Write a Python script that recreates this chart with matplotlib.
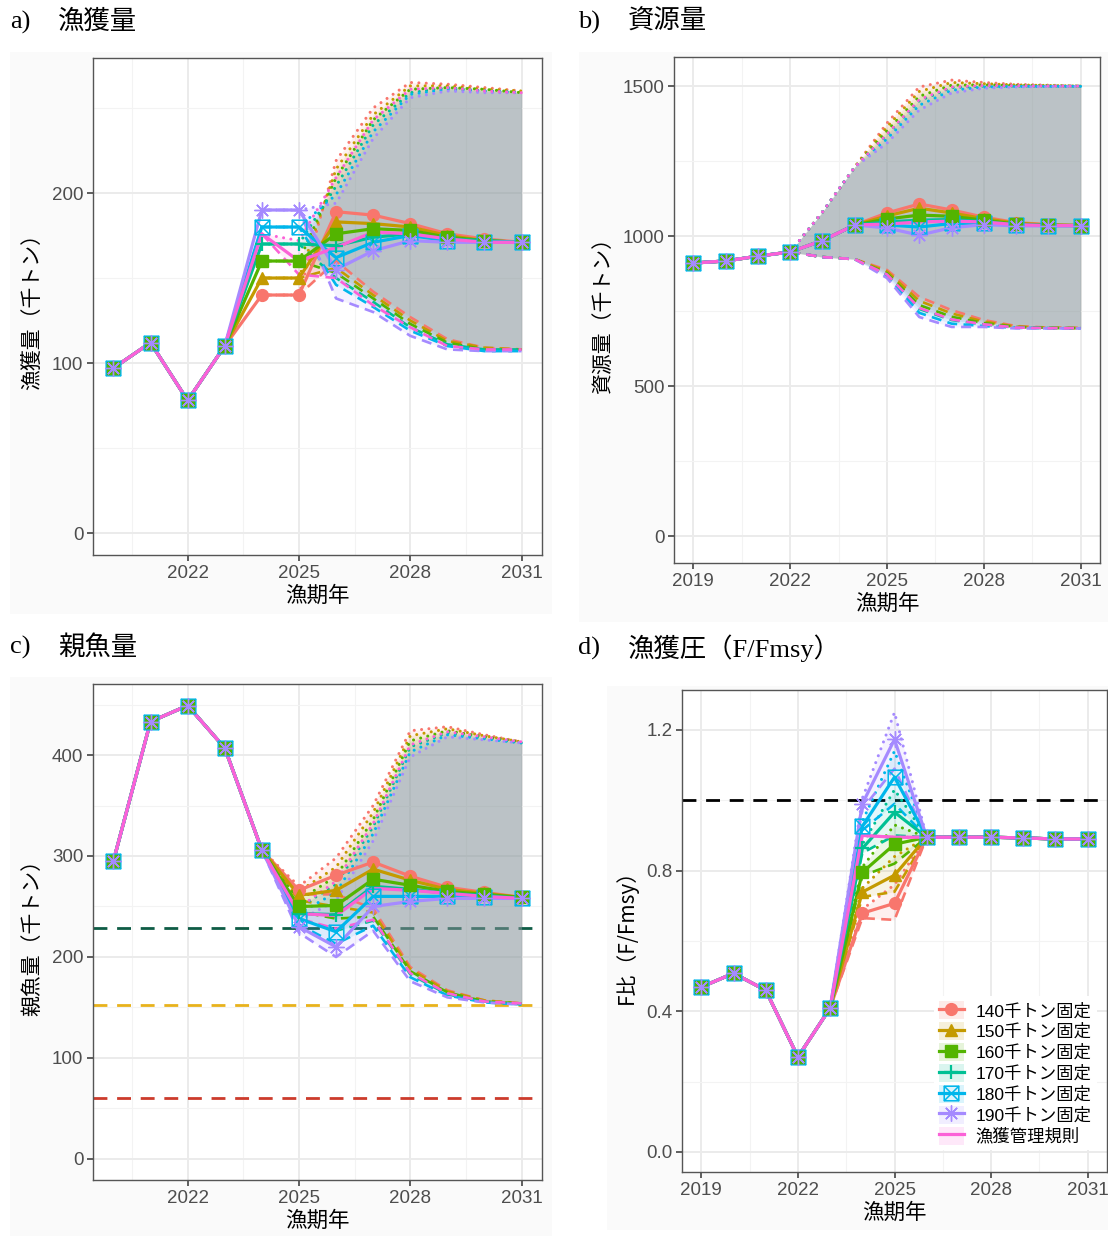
import matplotlib
matplotlib.use("Agg")
import matplotlib.pyplot as plt
from matplotlib.patches import Rectangle, Patch
from matplotlib.lines import Line2D
from matplotlib.path import Path
from matplotlib.legend_handler import HandlerTuple
from matplotlib.font_manager import FontProperties

# ---------------- data ----------------
SCEN = ["140千トン固定", "150千トン固定", "160千トン固定", "170千トン固定",
        "180千トン固定", "190千トン固定", "漁獲管理規則"]
COLORS = ["#F8766D", "#C49A00", "#53B400", "#00C094", "#00B6EB", "#A58AFF", "#FB61D7"]

# a) catch (kt)
catch_hist_years = [2020, 2021, 2022, 2023]
catch_hist = [97, 112, 78, 110]
catch_fut_years = [2024, 2025, 2026, 2027, 2028, 2029, 2030, 2031]
catch_140 = [140, 140, 189, 187, 182, 176, 173, 171]
catch_150 = [150, 150, 183, 182, 180, 175, 172, 171]
catch_160 = [160, 160, 176, 179, 178, 174, 172, 171]
catch_170 = [170, 170, 169, 174, 176, 173, 172, 171]
catch_180 = [180, 180, 162, 171, 175, 172, 171, 171]
catch_190 = [190, 190, 155, 166, 172, 171, 171, 171]
catch_hcr = [176, 160, 168, 177, 176, 173, 171, 171]
catch_up_140 = [140, 140, 219, 250, 265, 264, 262, 260]
catch_up_150 = [150, 150, 214, 246, 263, 263, 261, 260]
catch_up_160 = [160, 160, 209, 243, 261, 262, 261, 259]
catch_up_170 = [170, 170, 204, 240, 259, 262, 260, 259]
catch_up_180 = [180, 180, 199, 236, 258, 261, 260, 259]
catch_up_190 = [190, 190, 194, 232, 256, 260, 259, 259]
catch_up_hcr = [176, 172, 209, 243, 261, 262, 260, 259]
catch_lo_140 = [140, 140, 160, 142, 127, 114, 109, 108]
catch_lo_150 = [150, 150, 156, 140, 125, 113, 109, 108]
catch_lo_160 = [160, 160, 153, 138, 123, 112, 108, 108]
catch_lo_170 = [170, 170, 150, 136, 121, 111, 108, 108]
catch_lo_180 = [180, 180, 146, 133, 119, 110, 107, 107]
catch_lo_190 = [190, 190, 138, 130, 116, 108, 107, 107]
catch_lo_hcr = [176, 152, 150, 134, 121, 110, 108, 108]

# b) stock biomass (kt)
bio_hist_years = [2019, 2020, 2021, 2022]
bio_hist = [910, 917, 933, 947]
bio_fut_years = [2023, 2024, 2025, 2026, 2027, 2028, 2029, 2030, 2031]
bio_140 = [985, 1037, 1077, 1107, 1087, 1063, 1045, 1038, 1035]
bio_150 = [985, 1037, 1067, 1093, 1077, 1058, 1043, 1037, 1035]
bio_160 = [985, 1037, 1057, 1070, 1066, 1053, 1040, 1036, 1035]
bio_170 = [985, 1037, 1047, 1053, 1055, 1048, 1038, 1035, 1035]
bio_180 = [985, 1037, 1037, 1030, 1042, 1043, 1036, 1035, 1035]
bio_190 = [985, 1037, 1027, 1003, 1028, 1038, 1034, 1034, 1034]
bio_hcr = [985, 1037, 1040, 1047, 1050, 1047, 1038, 1035, 1035]
bio_band_years = [2022, 2023, 2024, 2025, 2026, 2027, 2028, 2029, 2030, 2031]
bio_up_140 = [947, 1080, 1230, 1377, 1497, 1520, 1512, 1506, 1503, 1500]
bio_up_150 = [947, 1080, 1230, 1364, 1482, 1512, 1508, 1504, 1502, 1500]
bio_up_160 = [947, 1080, 1230, 1351, 1466, 1503, 1504, 1502, 1501, 1500]
bio_up_170 = [947, 1080, 1230, 1338, 1451, 1495, 1500, 1500, 1500, 1500]
bio_up_180 = [947, 1080, 1230, 1324, 1436, 1486, 1497, 1499, 1499, 1499]
bio_up_190 = [947, 1080, 1230, 1310, 1420, 1477, 1493, 1497, 1499, 1499]
bio_up_hcr = [947, 1080, 1230, 1340, 1455, 1497, 1502, 1501, 1500, 1500]
bio_lo_140 = [947, 930, 923, 887, 797, 753, 720, 700, 695, 694]
bio_lo_150 = [947, 930, 923, 882, 784, 742, 715, 698, 694, 693]
bio_lo_160 = [947, 930, 923, 876, 770, 731, 710, 697, 694, 693]
bio_lo_170 = [947, 930, 923, 871, 757, 720, 705, 695, 693, 693]
bio_lo_180 = [947, 930, 923, 866, 744, 708, 700, 694, 693, 692]
bio_lo_190 = [947, 930, 923, 860, 730, 697, 697, 692, 692, 692]
bio_lo_hcr = [947, 930, 923, 872, 760, 722, 706, 695, 693, 693]

# c) spawning stock biomass (kt)
ssb_hist_years = [2020, 2021, 2022, 2023, 2024]
ssb_hist = [295, 433, 449, 407, 306]
ssb_fut_years = [2025, 2026, 2027, 2028, 2029, 2030, 2031]
ssb_140 = [266, 281, 294, 280, 269, 264, 259]
ssb_150 = [261, 266, 287, 276, 267, 263, 259]
ssb_160 = [250, 251, 277, 271, 265, 262, 259]
ssb_170 = [243, 242, 270, 267, 263, 261, 258]
ssb_180 = [238, 225, 260, 260, 260, 259, 258]
ssb_190 = [230, 210, 250, 255, 258, 258, 258]
ssb_hcr = [243, 241, 268, 266, 263, 260, 258]
ssb_band_years = [2024, 2025, 2026, 2027, 2028, 2029, 2030, 2031]
ssb_up_140 = [306, 270, 298, 350, 424, 428, 420, 413]
ssb_up_150 = [306, 265, 289, 343, 419, 426, 419, 413]
ssb_up_160 = [306, 256, 280, 336, 414, 424, 418, 413]
ssb_up_170 = [306, 249, 272, 329, 408, 422, 417, 412]
ssb_up_180 = [306, 243, 264, 322, 403, 420, 416, 412]
ssb_up_190 = [306, 236, 256, 315, 398, 418, 415, 412]
ssb_up_hcr = [306, 249, 275, 332, 410, 423, 418, 413]
ssb_lo_140 = [306, 262, 262, 248, 190, 167, 157, 154]
ssb_lo_150 = [306, 256, 250, 244, 188, 166, 157, 154]
ssb_lo_160 = [306, 245, 238, 240, 186, 165, 156, 154]
ssb_lo_170 = [306, 238, 226, 236, 183, 163, 156, 153]
ssb_lo_180 = [306, 232, 213, 231, 180, 162, 155, 153]
ssb_lo_190 = [306, 224, 200, 226, 176, 160, 155, 153]
ssb_lo_hcr = [306, 238, 228, 237, 184, 164, 156, 154]
ssb_refs = [229, 152, 60]
ssb_ref_colors = ["#0E5C45", "#E8B21C", "#CC3B2C"]

# d) F / Fmsy
f_hist_years = [2019, 2020, 2021, 2022, 2023]
f_hist = [0.469, 0.508, 0.460, 0.270, 0.409]
f_fut_years = [2024, 2025, 2026, 2027, 2028, 2029, 2030, 2031]
f_140 = [0.679, 0.707, 0.895, 0.895, 0.895, 0.893, 0.890, 0.890]
f_150 = [0.739, 0.787, 0.895, 0.895, 0.895, 0.893, 0.890, 0.890]
f_160 = [0.795, 0.875, 0.895, 0.895, 0.895, 0.893, 0.890, 0.890]
f_170 = [0.863, 0.966, 0.895, 0.895, 0.895, 0.893, 0.890, 0.890]
f_180 = [0.926, 1.066, 0.895, 0.895, 0.895, 0.893, 0.890, 0.890]
f_190 = [0.990, 1.173, 0.895, 0.895, 0.895, 0.893, 0.890, 0.890]
f_hcr = [0.900, 0.895, 0.895, 0.895, 0.895, 0.893, 0.890, 0.890]
f_band_years = [2023, 2024, 2025, 2026, 2027, 2028, 2029, 2030, 2031]
f_up_140 = [0.409, 0.690, 0.760, 0.895, 0.895, 0.895, 0.893, 0.890, 0.890]
f_up_150 = [0.409, 0.750, 0.840, 0.895, 0.895, 0.895, 0.893, 0.890, 0.890]
f_up_160 = [0.409, 0.810, 0.930, 0.895, 0.895, 0.895, 0.893, 0.890, 0.890]
f_up_170 = [0.409, 0.875, 1.030, 0.895, 0.895, 0.895, 0.893, 0.890, 0.890]
f_up_180 = [0.409, 0.940, 1.140, 0.895, 0.895, 0.895, 0.893, 0.890, 0.890]
f_up_190 = [0.409, 1.005, 1.250, 0.895, 0.895, 0.895, 0.893, 0.890, 0.890]
f_up_hcr = [0.409, 0.900, 0.895, 0.895, 0.895, 0.895, 0.893, 0.890, 0.890]
f_lo_140 = [0.409, 0.665, 0.660, 0.895, 0.895, 0.895, 0.893, 0.890, 0.890]
f_lo_150 = [0.409, 0.725, 0.740, 0.895, 0.895, 0.895, 0.893, 0.890, 0.890]
f_lo_160 = [0.409, 0.785, 0.820, 0.895, 0.895, 0.895, 0.893, 0.890, 0.890]
f_lo_170 = [0.409, 0.850, 0.900, 0.895, 0.895, 0.895, 0.893, 0.890, 0.890]
f_lo_180 = [0.409, 0.915, 0.990, 0.895, 0.895, 0.895, 0.893, 0.890, 0.890]
f_lo_190 = [0.409, 0.975, 1.090, 0.895, 0.895, 0.895, 0.893, 0.890, 0.890]
f_lo_hcr = [0.409, 0.900, 0.895, 0.895, 0.895, 0.895, 0.893, 0.890, 0.890]
f_ref = 1.0

# ---------------- style ----------------
W, H = 1108, 1236
JP = ["Noto Sans CJK JP"]
SANS = ["Liberation Sans", "Noto Sans CJK JP"]
SERIF = ["Liberation Serif", "Noto Sans CJK JP"]
ALPHA = 0.105
LW = 2.3
MS = 8.5

box_x = Path([(-1, -1), (1, -1), (1, 1), (-1, 1), (-1, -1),
              (-1, -1), (1, 1), (-1, 1), (1, -1)],
             [Path.MOVETO, Path.LINETO, Path.LINETO, Path.LINETO, Path.CLOSEPOLY,
              Path.MOVETO, Path.LINETO, Path.MOVETO, Path.LINETO])
MARKERS = [dict(marker="o", ms=MS),
           dict(marker="^", ms=MS + 0.5),
           dict(marker="s", ms=MS - 0.5),
           dict(marker="+", ms=MS + 2, mew=1.6),
           dict(marker=box_x, ms=MS + 2, mfc="none", mew=1.1),
           dict(marker=(8, 2, 0), ms=MS + 3, mew=1.0)]
MARKER_ORDER = [4, 3, 0, 1, 2, 5]

fig = plt.figure(figsize=(W / 100, H / 100), dpi=100)
fig.patch.set_facecolor("white")

# panel backgrounds
for (l, t, r, b) in [(10, 52, 552, 614), (579, 52, 1108, 622),
                     (10, 677, 552, 1236), (607, 686, 1108, 1230)]:
    fig.patches.append(Rectangle((l / W, 1 - b / H), (r - l) / W, (b - t) / H,
                                 transform=fig.transFigure, facecolor="#fafafa",
                                 edgecolor="none", zorder=-10))


def px_axes(l, t, r, b):
    return fig.add_axes([l / W, 1 - b / H, (r - l) / W, (b - t) / H])


def style_ax(ax, xlim, ylim, xmaj, xmin, ymaj, ymin, ylabels, ylabel):
    ax.set_facecolor("white")
    ax.set_xlim(*xlim)
    ax.set_ylim(*ylim)
    ax.set_xticks(xmaj)
    ax.set_xticklabels([str(v) for v in xmaj])
    ax.set_xticks(xmin, minor=True)
    ax.set_yticks(ymaj)
    ax.set_yticklabels(ylabels)
    ax.set_yticks(ymin, minor=True)
    ax.grid(which="major", color="#ebebeb", lw=1.4)
    ax.grid(which="minor", color="#f3f3f3", lw=0.8)
    ax.set_axisbelow(True)
    ax.tick_params(which="minor", length=0)
    ax.tick_params(which="major", length=4, width=1.1, color="#333333",
                   labelsize=13.5, labelcolor="#4d4d4d", pad=3)
    for lab in ax.get_xticklabels() + ax.get_yticklabels():
        lab.set_family(SANS)
    for s in ax.spines.values():
        s.set_color("#555555")
        s.set_linewidth(1.0)
    ax.set_xlabel("漁期年", family=JP, fontsize=15.5, color="black", labelpad=2)
    ax.set_ylabel(ylabel, family=JP, fontsize=15, color="black", labelpad=6)


def draw(ax, hist_years, hist, fut_years, mains, band_years, ups, los):
    for c, up, lo in zip(COLORS, ups, los):
        ax.fill_between(band_years, lo, up, color=c, alpha=ALPHA, lw=0, zorder=2)
    for c, up, lo in zip(COLORS, ups, los):
        ax.plot(band_years, up, color=c, lw=2.2, ls=(0, (0.01, 2.4)),
                dash_capstyle="round", zorder=3)
        ax.plot(band_years, lo, color=c, lw=1.9, ls=(0, (3.8, 2.4)), zorder=3)
    years = hist_years + fut_years
    for c, m in zip(COLORS[:6], mains[:6]):
        ax.plot(years, hist + m, color=c, lw=LW, zorder=4)
    ax.plot(years, hist + mains[6], color=COLORS[6], lw=LW, zorder=5)
    for i in MARKER_ORDER:
        ax.plot(years, hist + mains[i], color=COLORS[i], ls="none", zorder=6,
                **MARKERS[i])


# a) catch
axa = px_axes(93, 58, 542, 555)
draw(axa, catch_hist_years, catch_hist, catch_fut_years,
     [catch_140, catch_150, catch_160, catch_170, catch_180, catch_190, catch_hcr],
     catch_fut_years,
     [catch_up_140, catch_up_150, catch_up_160, catch_up_170, catch_up_180, catch_up_190, catch_up_hcr],
     [catch_lo_140, catch_lo_150, catch_lo_160, catch_lo_170, catch_lo_180, catch_lo_190, catch_lo_hcr])
style_ax(axa, (2019.45, 2031.55), (-12.9, 279.4), [2022, 2025, 2028, 2031],
         [2020.5, 2023.5, 2026.5, 2029.5], [0, 100, 200], [50, 150, 250],
         ["0", "100", "200"], "漁獲量（千トン）")

# b) biomass
axb = px_axes(674, 57, 1100, 563)
draw(axb, bio_hist_years, bio_hist, bio_fut_years,
     [bio_140, bio_150, bio_160, bio_170, bio_180, bio_190, bio_hcr],
     bio_band_years,
     [bio_up_140, bio_up_150, bio_up_160, bio_up_170, bio_up_180, bio_up_190, bio_up_hcr],
     [bio_lo_140, bio_lo_150, bio_lo_160, bio_lo_170, bio_lo_180, bio_lo_190, bio_lo_hcr])
style_ax(axb, (2018.4, 2031.6), (-90, 1597), [2019, 2022, 2025, 2028, 2031],
         [2020.5, 2023.5, 2026.5, 2029.5], [0, 500, 1000, 1500], [250, 750, 1250],
         ["0", "500", "1000", "1500"], "資源量（千トン）")

# c) SSB
axc = px_axes(93, 684, 542, 1180)
draw(axc, ssb_hist_years, ssb_hist, ssb_fut_years,
     [ssb_140, ssb_150, ssb_160, ssb_170, ssb_180, ssb_190, ssb_hcr],
     ssb_band_years,
     [ssb_up_140, ssb_up_150, ssb_up_160, ssb_up_170, ssb_up_180, ssb_up_190, ssb_up_hcr],
     [ssb_lo_140, ssb_lo_150, ssb_lo_160, ssb_lo_170, ssb_lo_180, ssb_lo_190, ssb_lo_hcr])
for v, c in zip(ssb_refs, ssb_ref_colors):
    axc.axhline(v, color=c, lw=2.0, ls=(0, (5, 3.5)), zorder=1.5)
style_ax(axc, (2019.45, 2031.55), (-20.8, 470.3), [2022, 2025, 2028, 2031],
         [2020.5, 2023.5, 2026.5, 2029.5], [0, 100, 200, 300, 400],
         [50, 150, 250, 350, 450], ["0", "100", "200", "300", "400"], "親魚量（千トン）")

# d) F/Fmsy
axd = px_axes(682, 690, 1107, 1172)
draw(axd, f_hist_years, f_hist, f_fut_years,
     [f_140, f_150, f_160, f_170, f_180, f_190, f_hcr],
     f_band_years,
     [f_up_140, f_up_150, f_up_160, f_up_170, f_up_180, f_up_190, f_up_hcr],
     [f_lo_140, f_lo_150, f_lo_160, f_lo_170, f_lo_180, f_lo_190, f_lo_hcr])
axd.axhline(f_ref, color="black", lw=2.0, ls=(0, (5, 3.5)), zorder=1.5)
style_ax(axd, (2018.4, 2031.6), (-0.057, 1.3137), [2019, 2022, 2025, 2028, 2031],
         [2020.5, 2023.5, 2026.5, 2029.5], [0.0, 0.4, 0.8, 1.2], [0.2, 0.6, 1.0],
         ["0.0", "0.4", "0.8", "1.2"], "F比（F/Fmsy）")

# legend
handles = []
for i, c in enumerate(COLORS):
    p = Patch(facecolor=c, alpha=ALPHA * 1.4, edgecolor="none")
    if i < 6:
        ln = Line2D([], [], color=c, lw=LW, **MARKERS[i])
    else:
        ln = Line2D([], [], color=c, lw=LW)
    handles.append((p, ln))
leg = axd.legend(handles, SCEN, handler_map={tuple: HandlerTuple(ndivide=1)},
                 loc="lower right",
                 bbox_to_anchor=((1097 - 682) / 425, (1172 - 1150) / 482),
                 borderaxespad=0, frameon=True, facecolor="white", edgecolor="none",
                 framealpha=1, prop=FontProperties(family=SANS, size=12.5),
                 labelspacing=0.18, handlelength=1.4, handleheight=1.2,
                 handletextpad=0.7, borderpad=0.3)
leg.set_zorder(10)

# panel titles
for x0, x1, y, lab, title in [(10, 58, 22, "a)", "漁獲量"), (578, 628, 22, "b)", "資源量"),
                              (10, 58, 647, "c)", "親魚量"), (578, 628, 648, "d)", "漁獲圧（F/Fmsy）")]:
    fig.text(x0 / W, 1 - y / H, lab, family=SERIF, fontsize=19, va="center", ha="left")
    fig.text(x1 / W, 1 - y / H, title, family=SERIF, fontsize=19, va="center", ha="left")

fig.savefig("out.png", dpi=100)
